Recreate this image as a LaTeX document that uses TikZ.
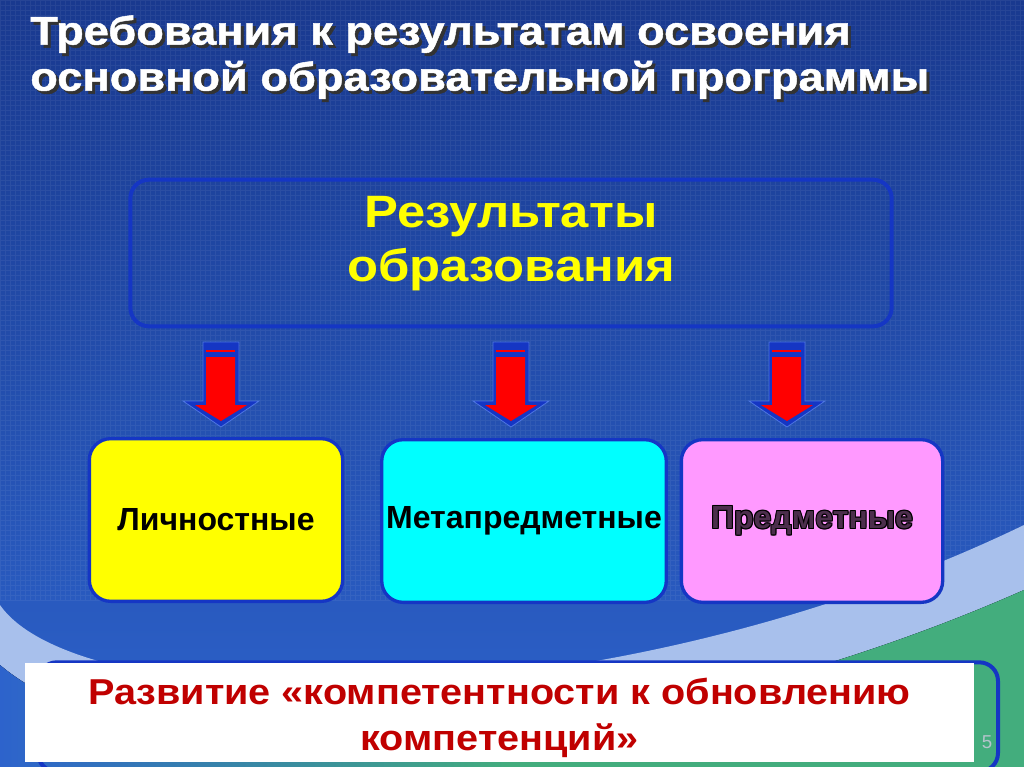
\documentclass[tikz,border=0pt]{standalone}
\usepackage{fontspec}
\setmainfont{Liberation Sans}
\newfontfamily\titlefam[FakeStretch=1.13, FakeBold=1.2]{Liberation Sans}
\newfontfamily\widefam[FakeStretch=1.12]{Liberation Sans}
\newfontfamily\redfam[FakeStretch=1.1]{Liberation Sans}
\usetikzlibrary{positioning}

\definecolor{bgtop}{HTML}{19398F}
\definecolor{bgbot}{HTML}{2D63CC}
\definecolor{rimblue}{HTML}{1536C4}
\definecolor{rimlight}{HTML}{4D76E2}
\definecolor{bandblue}{HTML}{A8C0EC}
\definecolor{swgreen}{HTML}{43AD7D}
\definecolor{wine}{HTML}{C00000}
\definecolor{lilac}{HTML}{FF99FF}
\definecolor{lemon}{HTML}{FFFF00}
\definecolor{aqua}{HTML}{00FFFF}
\definecolor{pagegray}{HTML}{B4C4CC}

\newcommand{\titlefont}{\titlefam\bfseries\fontsize{30}{34.5}\selectfont}

\tikzset{
	resbox/.style={rounded corners=14pt, draw=rimblue, line width=3pt, minimum width=571pt, minimum height=110pt, align=center, text=lemon, font=\widefam\bfseries\fontsize{34}{40}\selectfont},
	kindbox/.style={rounded corners=16pt, draw=rimblue, line width=2.5pt, minimum height=122pt, font=\bfseries\fontsize{24}{28}\selectfont},
	devbox/.style={fill=white, minimum width=712pt, minimum height=71pt, text=wine, align=center, font=\redfam\bfseries\fontsize{27}{34}\selectfont},
	bigarrow/.pic={
		\filldraw[fill=rimblue, draw=rimlight, line width=.6pt] (-18,0) -- (18,0) -- (18,59) -- (38,59) -- (0,85) -- (-38,59) -- (-18,59) -- cycle;
		\fill[red] (-15,15) -- (14,15) -- (14,63) -- (26,63) -- (0,79) -- (-26,63) -- (-15,63) -- cycle;
		\draw[red, line width=1pt] (-15,9) -- (14,9);
	}
}

\begin{document}
\begin{tikzpicture}[x=0.75pt, y=-0.75pt]
	\useasboundingbox (0,0) rectangle (1024,767);

	% background and swoosh
	\fill[top color=bgtop, bottom color=bgbot] (0,0) rectangle (1024,767);
	\draw[white, opacity=.06, line width=.3pt, step=3.75pt] (0,0) grid (1024,600);
	\fill[bandblue] (0,605) .. controls (80,720) and (600,730) .. (1024,525) -- (1024,590) .. controls (640,760) and (160,800) .. (0,665) -- cycle;
	\fill[left color=bgbot, right color=swgreen, middle color=swgreen] (1024,590) .. controls (640,760) and (160,800) .. (0,665) -- (0,767) -- (1024,767) -- cycle;

	% title
	\node 	(titleshade)	at	(33,18)	[anchor=north west, inner sep=0pt, align=left, text=black!80, font=\titlefont]{Требования к результатам освоения\\основной образовательной программы};
	\node 	(title)		at	(30,15)	[anchor=north west, inner sep=0pt, align=left, text=white, font=\titlefont]{Требования к результатам освоения\\основной образовательной программы};

	% results and kinds
	\node 	(res)		at	(511,253)	[resbox]{Результаты\\образования\rule[-21pt]{0pt}{21pt}};

	\pic at (221,342) {bigarrow};
	\pic at (511,342) {bigarrow};
	\pic at (787,342) {bigarrow};

	\node 	(lich)		at	(216,520)	[kindbox, fill=lemon, minimum width=190pt]{Личностные};
	\node 	(meta)		at	(524,521)	[kindbox, fill=aqua, minimum width=211pt]{Метапредметные};
	\node 	(pred)		at	(812,521)	[kindbox, fill=lilac, minimum width=196pt]{};
	\foreach \dx/\dy in {-1/0,1/0,0/-1,0/1,-1/-1,1/1,-1/1,1/-1}
		\node at (pred) [xshift=\dx*0.7pt, yshift=\dy*0.7pt, font=\bfseries\fontsize{24}{28}\selectfont]{Предметные};
	\node 	(predtext)	at	(pred)	[text=black!70!lilac, font=\bfseries\fontsize{24}{28}\selectfont]{Предметные};

	% development
	\node 	(devframe)	at	(518,717)	[draw=rimblue, line width=3pt, rounded corners=14pt, minimum width=720pt, minimum height=82pt]{};
	\node 	(dev)		at	(499.5,712.5)	[devbox]{\rule{0pt}{28pt}Развитие «компетентности к обновлению\\компетенций»};
	\node 	(page)		at	(987,742)	[text=pagegray, font=\fontsize{14}{14}\selectfont]{5};

\end{tikzpicture}
\end{document}
